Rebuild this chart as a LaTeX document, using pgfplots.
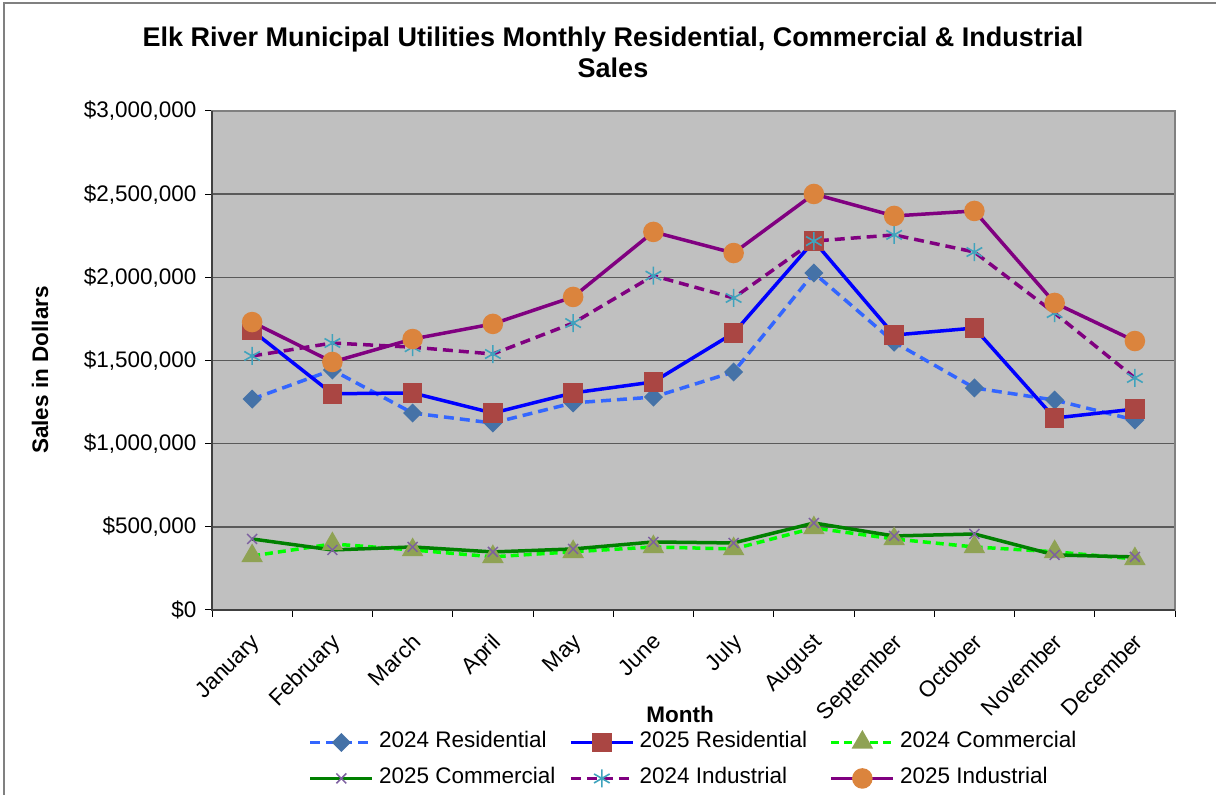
\documentclass[border=0pt]{standalone}
\usepackage{pgfplots}
\pgfplotsset{compat=1.18}
\usepackage{fontspec}
\setmainfont{Liberation Sans}
\definecolor{plotbg}{HTML}{C0C0C0}
\definecolor{gridc}{HTML}{5A5A5A}
\definecolor{framec}{HTML}{808080}
\definecolor{res24l}{HTML}{3366FF}
\definecolor{res24m}{HTML}{4572A7}
\definecolor{res25l}{HTML}{0000FF}
\definecolor{res25m}{HTML}{AA4643}
\definecolor{com24l}{HTML}{00FF00}
\definecolor{com24m}{HTML}{8FA254}
\definecolor{com25l}{HTML}{008000}
\definecolor{com25m}{HTML}{7D60A0}
\definecolor{ind24l}{HTML}{800080}
\definecolor{ind24m}{HTML}{3FA3BD}
\definecolor{ind25l}{HTML}{800080}
\definecolor{ind25m}{HTML}{DB843D}
\newcommand\bodyfont{\fontsize{22.5bp}{27bp}\selectfont}
\begin{document}
\begin{tikzpicture}[x=1bp,y=1bp]
\useasboundingbox (0,0) rectangle (1216,795);
\draw[framec, line width=1.5bp] (4,0) -- (4,792) -- (1216,792);
\node[font=\bfseries\fontsize{27bp}{31bp}\selectfont, align=center] at (613,742.5) {Elk River Municipal Utilities Monthly Residential, Commercial \& Industrial\\Sales};
\node[font=\bfseries\bodyfont, rotate=90] at (40,425) {Sales in Dollars};
\node[font=\bfseries\bodyfont] at (680,81) {Month};
\begin{axis}[
  at={(212bp,185bp)}, anchor=south west,
  width=963bp, height=499bp, scale only axis,
  xmin=-0.5, xmax=11.5, ymin=0, ymax=3000000,
  axis background/.style={fill=plotbg},
  axis line style={draw=framec, line width=2.5bp},
  xtick={0,1,2,3,4,5,6,7,8,9,10,11},
  xticklabels={January,February,March,April,May,June,July,August,September,October,November,December},
  minor xtick={-0.5,0.5,1.5,2.5,3.5,4.5,5.5,6.5,7.5,8.5,9.5,10.5,11.5},
  xticklabel style={rotate=45, anchor=north east, inner sep=1bp, xshift=-16bp, yshift=-13bp},
  ytick={0,500000,1000000,1500000,2000000,2500000,3000000},
  minor ytick={0,500000,1000000,1500000,2000000,2500000,3000000},
  yticklabels={\$0,{\$500,000},{\$1,000,000},{\$1,500,000},{\$2,000,000},{\$2,500,000},{\$3,000,000}},
  scaled y ticks=false,
  ymajorgrids, grid style={gridc, line width=1.5bp},
  tick pos=left,
  tick align=outside, major tick length=0pt, minor tick length=7bp,
  tick style={black, line width=1bp},
  ticklabel style={font=\bodyfont},
  yticklabel style={xshift=-12bp},
  legend columns=3,
  legend style={at={(axis description cs:0.097,-0.24)}, anchor=north west, draw=none, fill=none,
    font=\bodyfont, nodes={inner sep=0pt, text height=16bp, text depth=5bp, anchor=west},
    /tikz/every odd column/.append style={column sep=5bp},
    /tikz/row sep=15bp},
  legend image code/.code={\draw[mark repeat=2, mark phase=2] plot coordinates {(0bp,0bp)(31bp,0bp)(62bp,0bp)};},
  clip=false,
]
\draw[black!75, line width=1.5bp] (rel axis cs:0,1) -- (rel axis cs:0,0) -- (rel axis cs:1,0);
\addplot[res24l, line width=3.5bp, dash pattern=on 10bp off 6bp, mark=square*, mark size=5bp,
  mark options={solid, rotate=45, fill=res24m, draw=res24m}] coordinates {
(0,1268000)(1,1443000)(2,1184000)(3,1124000)(4,1245000)(5,1280000)(6,1431000)(7,2026000)(8,1610000)(9,1335000)(10,1262000)(11,1142000)};
\addlegendentry{\makebox[190bp][l]{2024 Residential}}
\addplot[res25l, line width=3.5bp, mark=square*, mark size=8bp,
  mark options={solid, fill=res25m, draw=res25m}] coordinates {
(0,1680000)(1,1300000)(2,1305000)(3,1184000)(4,1305000)(5,1371000)(6,1665000)(7,2218000)(8,1653000)(9,1695000)(10,1154000)(11,1208000)};
\addlegendentry{\makebox[190bp][l]{2025 Residential}}
\addplot[com24l, line width=3.5bp, dash pattern=on 8bp off 5bp, mark=triangle*, mark size=9bp,
  mark options={solid, fill=com24m, draw=com24m}] coordinates {
(0,325000)(1,397000)(2,361000)(3,320000)(4,350000)(5,379000)(6,367000)(7,493000)(8,427000)(9,379000)(10,350000)(11,307000)};
\addlegendentry{\makebox[190bp][l]{2024 Commercial}}
\addplot[com25l, line width=3.5bp, mark=x, mark size=7bp,
  mark options={solid, draw=com25m, line width=1.5bp}] coordinates {
(0,427000)(1,361000)(2,379000)(3,349000)(4,367000)(5,409000)(6,403000)(7,523000)(8,445000)(9,457000)(10,331000)(11,319000)};
\addlegendentry{\makebox[190bp][l]{2025 Commercial}}
\addplot[ind24l, line width=3.5bp, dash pattern=on 10bp off 6bp, mark=asterisk, mark size=9bp,
  mark options={solid, draw=ind24m, line width=1.6bp}] coordinates {
(0,1527000)(1,1605000)(2,1580000)(3,1539000)(4,1725000)(5,2010000)(6,1876000)(7,2218000)(8,2255000)(9,2152000)(10,1785000)(11,1395000)};
\addlegendentry{\makebox[190bp][l]{2024 Industrial}}
\addplot[ind25l, line width=3.5bp, mark=*, mark size=8.5bp,
  mark options={solid, fill=ind25m, draw=ind25m}] coordinates {
(0,1731000)(1,1491000)(2,1629000)(3,1720000)(4,1882000)(5,2273000)(6,2146000)(7,2501000)(8,2369000)(9,2399000)(10,1846000)(11,1617000)};
\addlegendentry{\makebox[190bp][l]{2025 Industrial}}
\end{axis}
\end{tikzpicture}
\end{document}
